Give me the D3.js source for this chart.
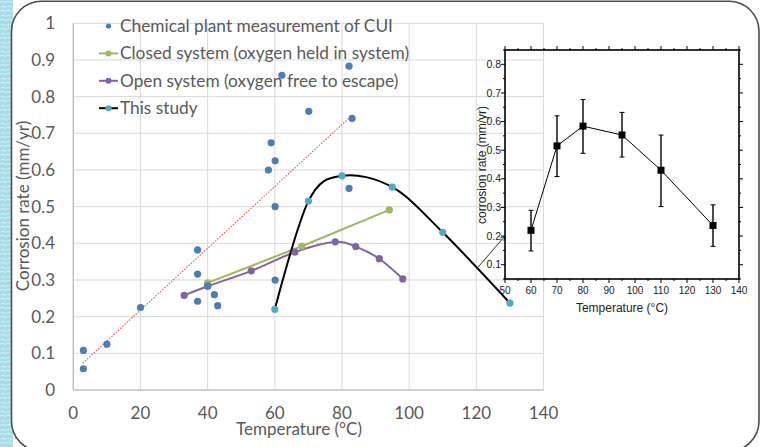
<!DOCTYPE html>
<html>
<head>
<meta charset="utf-8">
<script src="https://cdn.jsdelivr.net/npm/d3@7"></script>
<style>
  body { margin: 0; background: #fff; }
  svg { display: block; }
</style>
</head>
<body>
<div id="chart"></div>
<script>
// chemical plant field measurements (scatter only)
const chemT = [3, 3, 10, 20, 37, 37, 37, 40, 42, 43, 58.1, 58.9, 60.1, 60.1, 60.1, 62.1, 70.1, 82.1, 83, 82.1];
const chemRate = [0.108, 0.058, 0.125, 0.225, 0.382, 0.316, 0.242, 0.283, 0.26, 0.23, 0.6, 0.674, 0.625, 0.5, 0.3, 0.858, 0.76, 0.883, 0.741, 0.55];
// dotted red trend line drawn over the field data (end points)
const trendT = [2.8, 83];
const trendRate = [0.073, 0.749];

const closedT = [40, 68, 94.1];
const closedRate = [0.292, 0.392, 0.491];

const openT = [33, 40, 53, 66, 78, 84.1, 91.1, 98.1];
const openRate = [0.258, 0.283, 0.325, 0.376, 0.404, 0.391, 0.358, 0.303];

const studyT = [60, 70, 80, 95, 110, 130];
const studyRate = [0.22, 0.515, 0.584, 0.553, 0.43, 0.237];
const studyLow = [0.148, 0.408, 0.489, 0.476, 0.303, 0.164];
const studyHigh = [0.29, 0.62, 0.677, 0.632, 0.553, 0.309];

const xTicks = [0, 20, 40, 60, 80, 100, 120, 140];
const yTicks = [0, 0.1, 0.2, 0.3, 0.4, 0.5, 0.6, 0.7, 0.8, 0.9, 1];
const insetXTicks = [50, 60, 70, 80, 90, 100, 110, 120, 130, 140];
const insetYTicks = [0.1, 0.2, 0.3, 0.4, 0.5, 0.6, 0.7, 0.8];

const legendLabels = [
  "Chemical plant measurement of CUI",
  "Closed system (oxygen held in system)",
  "Open system (oxygen free to escape)",
  "This study"
];

const W = 766, H = 447;
const mainFont = "Lato, 'Open Sans', sans-serif";
const insetFont = "'Liberation Sans Narrow', 'Liberation Sans', Arial, sans-serif";
const grey = "#595959";

const svg = d3.select("#chart").append("svg").attr("width", W).attr("height", H);

// page background strip + rounded card
const defs = svg.append("defs");
const pat = defs.append("pattern").attr("id", "tex").attr("width", 6).attr("height", 9).attr("patternUnits", "userSpaceOnUse");
pat.append("rect").attr("width", 6).attr("height", 9).attr("fill", "#a9dde6");
pat.append("path").attr("d", "M0,2 Q3,0 6,3 M1,7 Q4,5 6,8").attr("fill", "none").attr("stroke", "#d3eef2").attr("stroke-width", 1);
svg.append("rect").attr("x", 0).attr("y", 0).attr("width", 13).attr("height", H).attr("fill", "url(#tex)");
svg.append("rect").attr("x", 11.5).attr("y", 1.2).attr("width", 747.5).attr("height", 450)
  .attr("rx", 30).attr("fill", "#fff").attr("stroke", "#4d4d4d").attr("stroke-width", 1.6);

// ---------- main chart ----------
const x = d3.scaleLinear().domain([0, 140]).range([73.3, 543.5]);
const y = d3.scaleLinear().domain([0, 1]).range([390, 23.3]);

const g = svg.append("g");

g.selectAll(".hgrid").data(yTicks.filter(d => d > 0)).enter().append("line")
  .attr("x1", x(0)).attr("x2", x(140))
  .attr("y1", d => y(d)).attr("y2", d => y(d))
  .attr("stroke", "#d9d9d9").attr("stroke-width", 1);
g.selectAll(".vgrid").data(xTicks.filter(d => d > 0)).enter().append("line")
  .attr("x1", d => x(d)).attr("x2", d => x(d))
  .attr("y1", y(0)).attr("y2", y(1))
  .attr("stroke", "#d9d9d9").attr("stroke-width", 1);

// axis lines
g.append("line").attr("x1", x(0)).attr("x2", x(0)).attr("y1", y(0)).attr("y2", y(1))
  .attr("stroke", "#bfbfbf").attr("stroke-width", 1.5);
g.append("line").attr("x1", x(0)).attr("x2", x(140)).attr("y1", y(0)).attr("y2", y(0))
  .attr("stroke", "#bfbfbf").attr("stroke-width", 1.5);

// tick labels
g.selectAll(".ylab").data(yTicks).enter().append("text")
  .attr("x", 55).attr("y", d => y(d)).attr("dy", "0.36em")
  .attr("text-anchor", "end").attr("fill", grey)
  .style("font-family", mainFont).style("font-size", "17px")
  .text(d => d3.format("~g")(d));
g.selectAll(".xlab").data(xTicks).enter().append("text")
  .attr("x", d => x(d)).attr("y", 419)
  .attr("text-anchor", "middle").attr("fill", grey)
  .style("font-family", mainFont).style("font-size", "17px")
  .text(d => d);

// axis titles
g.append("text").attr("x", 299).attr("y", 435).attr("text-anchor", "middle").attr("fill", grey)
  .style("font-family", mainFont).style("font-size", "17px").text("Temperature (°C)");
g.append("text").attr("transform", "translate(29,206) rotate(-90)").attr("text-anchor", "middle").attr("fill", grey)
  .style("font-family", mainFont).style("font-size", "17px").text("Corrosion rate (mm/yr)");

const zip = (a, b) => a.map((v, i) => [v, b[i]]);

// trend line
g.append("path").datum(zip(trendT, trendRate))
  .attr("d", d3.line().x(d => x(d[0])).y(d => y(d[1])))
  .attr("fill", "none").attr("stroke", "#e0605e").attr("stroke-width", 1.2).attr("stroke-dasharray", "1.5,1.5");

const smooth = d3.curveCatmullRom.alpha(0);

g.append("path").datum(zip(closedT, closedRate))
  .attr("d", d3.line().x(d => x(d[0])).y(d => y(d[1])))
  .attr("fill", "none").attr("stroke", "#9bbb59").attr("stroke-width", 2);
g.append("path").datum(zip(openT, openRate))
  .attr("d", d3.line().curve(smooth).x(d => x(d[0])).y(d => y(d[1])))
  .attr("fill", "none").attr("stroke", "#8064a2").attr("stroke-width", 2);
g.append("path").datum(zip(studyT, studyRate))
  .attr("d", d3.line().curve(smooth).x(d => x(d[0])).y(d => y(d[1])))
  .attr("fill", "none").attr("stroke", "#000").attr("stroke-width", 2);

function dots(data, color) {
  g.selectAll(null).data(data).enter().append("circle")
    .attr("cx", d => x(d[0])).attr("cy", d => y(d[1])).attr("r", 3.6).attr("fill", color);
}
dots(zip(closedT, closedRate), "#9bbb59");
dots(zip(openT, openRate), "#8064a2");
dots(zip(studyT, studyRate), "#4bacc6");
dots(zip(chemT, chemRate), "#4a7ebb");

// legend
const legendColors = [
  { line: null, dot: "#4a7ebb" },
  { line: "#9bbb59", dot: "#9bbb59" },
  { line: "#8064a2", dot: "#8064a2" },
  { line: "#000", dot: "#4bacc6" }
];
const leg = g.selectAll(".leg").data(legendLabels).enter().append("g")
  .attr("transform", (d, i) => `translate(0,${26 + i * 27.4})`);
leg.each(function (d, i) {
  const s = d3.select(this);
  const c = legendColors[i];
  if (c.line) s.append("line").attr("x1", 99).attr("x2", 118).attr("y1", 0).attr("y2", 0)
    .attr("stroke", c.line).attr("stroke-width", 2);
  s.append("circle").attr("cx", 108.5).attr("cy", 0).attr("r", c.line ? 3 : 2.6).attr("fill", c.dot);
});
leg.append("text").attr("x", 120).attr("y", 6).attr("fill", grey)
  .style("font-family", mainFont).style("font-size", "17.3px").text(d => d);

// ---------- inset ----------
const ix = d3.scaleLinear().domain([50, 140]).range([505, 739]);
const iy = d3.scaleLinear().domain([0.05, 0.85]).range([279, 50]);
const ins = svg.append("g");

// arrow from main curve to inset
defs.append("marker").attr("id", "arr").attr("viewBox", "0 0 10 10").attr("refX", 9).attr("refY", 5)
  .attr("markerWidth", 7).attr("markerHeight", 7).attr("orient", "auto")
  .append("path").attr("d", "M1,1 L9,5 L1,9").attr("fill", "none").attr("stroke", "#000").attr("stroke-width", 1.2);
ins.append("line").attr("x1", x(120.5)).attr("y1", y(0.335)).attr("x2", ix(50)).attr("y2", iy(0.2))
  .attr("stroke", "#000").attr("stroke-width", 0.8).attr("marker-end", "url(#arr)");

const minorX = d3.range(50, 141, 5);
const minorY = d3.range(0.05, 0.851, 0.05);

// ticks, outward on all four sides
const tickLen = (v, majors) => majors.some(m => Math.abs(m - v) < 1e-6) ? 4 : 2;
minorX.forEach(v => {
  const L = tickLen(v, insetXTicks);
  ins.append("line").attr("x1", ix(v)).attr("x2", ix(v)).attr("y1", iy(0.85)).attr("y2", iy(0.85) - L).attr("stroke", "#000");
  ins.append("line").attr("x1", ix(v)).attr("x2", ix(v)).attr("y1", iy(0.05)).attr("y2", iy(0.05) + L).attr("stroke", "#000");
});
minorY.forEach(v => {
  const L = tickLen(v, insetYTicks);
  ins.append("line").attr("x1", ix(50)).attr("x2", ix(50) - L).attr("y1", iy(v)).attr("y2", iy(v)).attr("stroke", "#000");
  ins.append("line").attr("x1", ix(140)).attr("x2", ix(140) + L).attr("y1", iy(v)).attr("y2", iy(v)).attr("stroke", "#000");
});

ins.append("rect").attr("x", ix(50)).attr("y", iy(0.85)).attr("width", ix(140) - ix(50)).attr("height", iy(0.05) - iy(0.85))
  .attr("fill", "none").attr("stroke", "#000").attr("stroke-width", 1.6);

ins.selectAll(".iyl").data(insetYTicks).enter().append("text")
  .attr("x", 501).attr("y", d => iy(d)).attr("dy", "0.35em").attr("text-anchor", "end").attr("fill", "#222")
  .style("font-family", insetFont).style("font-size", "10.5px").text(d => d3.format(".1f")(d));
ins.selectAll(".ixl").data(insetXTicks).enter().append("text")
  .attr("x", d => ix(d)).attr("y", 294).attr("text-anchor", "middle").attr("fill", "#222")
  .style("font-family", insetFont).style("font-size", "10px").text(d => d);
ins.append("text").attr("x", 622).attr("y", 312).attr("text-anchor", "middle").attr("fill", "#222")
  .style("font-family", insetFont).style("font-size", "12px").text("Temperature (°C)");
ins.append("text").attr("transform", "translate(485.5,165) rotate(-90)").attr("text-anchor", "middle").attr("fill", "#222")
  .style("font-family", insetFont).style("font-size", "12px").text("corrosion rate (mm/yr)");

// error bars
const studyPts = studyT.map((t, i) => ({ t, v: studyRate[i], lo: studyLow[i], hi: studyHigh[i] }));
const eb = ins.selectAll(".eb").data(studyPts).enter().append("g");
eb.append("line").attr("x1", d => ix(d.t)).attr("x2", d => ix(d.t)).attr("y1", d => iy(d.lo)).attr("y2", d => iy(d.hi))
  .attr("stroke", "#000").attr("stroke-width", 1.4);
eb.append("line").attr("x1", d => ix(d.t) - 2.5).attr("x2", d => ix(d.t) + 2.5).attr("y1", d => iy(d.lo)).attr("y2", d => iy(d.lo))
  .attr("stroke", "#000").attr("stroke-width", 1);
eb.append("line").attr("x1", d => ix(d.t) - 2.5).attr("x2", d => ix(d.t) + 2.5).attr("y1", d => iy(d.hi)).attr("y2", d => iy(d.hi))
  .attr("stroke", "#000").attr("stroke-width", 1);

ins.append("path").datum(studyPts)
  .attr("d", d3.line().x(d => ix(d.t)).y(d => iy(d.v)))
  .attr("fill", "none").attr("stroke", "#000").attr("stroke-width", 1);
ins.selectAll(".sq").data(studyPts).enter().append("rect")
  .attr("x", d => ix(d.t) - 3.5).attr("y", d => iy(d.v) - 3.5).attr("width", 7).attr("height", 7).attr("fill", "#000");
</script>
</body>
</html>
